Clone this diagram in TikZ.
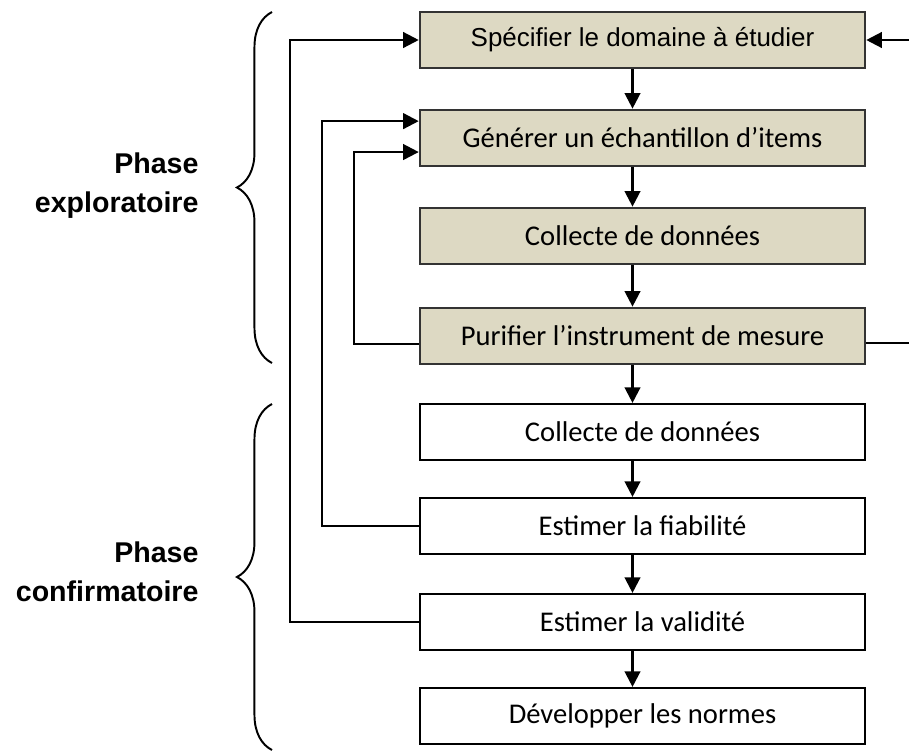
\documentclass[tikz,border=0pt]{standalone}
\usepackage{fontspec}
\setmainfont{Carlito}
\newfontfamily\arialfont{Liberation Sans}
\usepackage{xcolor,tikz}
\usetikzlibrary{arrows.meta,decorations.pathreplacing}
\definecolor{tan}{HTML}{DDD9C3}
\definecolor{rim}{HTML}{333333}

\begin{document}
\begin{tikzpicture}[x=0.385pt,y=-0.385pt,
 box/.style={draw=black,line width=0.8pt,minimum width=171.3pt,minimum height=21.6pt,inner sep=0pt,font=\fontsize{11}{13}\selectfont},
 tbox/.style={box,fill=tan,draw=rim,line width=1pt},
 line/.style={draw=black,line width=0.9pt},
 arr/.style={line,-{Triangle[length=6pt,width=6pt]}},
 brc/.style={decorate,decoration={brace,amplitude=13.5pt,aspect=0.5},line width=0.75pt},
 lbl/.style={align=right,anchor=east,inner sep=0pt,font=\arialfont\bfseries\fontsize{11}{15}\selectfont}]
 \useasboundingbox (0,0) rectangle (909,753);
 \node[tbox,font=\arialfont\fontsize{10}{12}\selectfont] (b1) at (642.5,40) {Spécifier le domaine à étudier};
 \foreach \i/\y/\txt in {2/138/Générer un échantillon d’items,3/236/Collecte de données,4/336/Purifier l’instrument de mesure}
   \node[tbox] (b\i) at (642.5,\y) {\txt};
 \foreach \i/\y/\txt in {5/432/Collecte de données,6/526/Estimer la fiabilité,7/622/Estimer la validité,8/716/Développer les normes}
   \node[box] (b\i) at (642.5,\y) {\txt};
 \foreach \i in {1,...,7}{
   \pgfmathtruncatemacro\j{\i+1}
   \draw[arr] ([xshift=-3.85pt]b\i.south) -- ([xshift=-3.85pt]b\j.north);
 }
 \coordinate (c1) at (290,0);
 \coordinate (c2) at (322,0);
 \coordinate (c3) at (354,0);
 \coordinate (r4) at (909,343);
 \coordinate (r1) at (909,40);
 \draw[arr] (b7.west) -- (b7.west -| c1) |- (b1.west);
 \draw[arr] (b6.west) -- (b6.west -| c2) |- ([yshift=6.5pt]b2.west);
 \draw[arr] ([yshift=-3pt]b4.west) -- ([yshift=-3pt]b4.west -| c3) |- ([yshift=-5.4pt]b2.west);
 \draw[line] (b4.east |- r4) -- (r4);
 \draw[arr] (r1) -- (b1.east);
 \draw[brc] (272,363) -- (272,12);
 \draw[brc] (272,750) -- (272,404);
 \node[lbl] (p1) at (199,186) {Phase\\exploratoire};
 \node[lbl] (p2) at (199,572) {Phase\\confirmatoire};
\end{tikzpicture}
\end{document}
